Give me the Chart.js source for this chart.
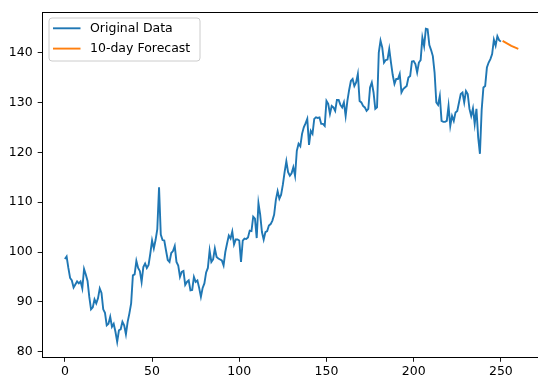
<!DOCTYPE html>
<html>
<head>
<meta charset="utf-8">
<script src="https://cdn.jsdelivr.net/npm/chart.js@4/dist/chart.umd.min.js"></script>
<style>
  html, body { margin: 0; padding: 0; background: #fff; }
  #wrap { width: 538px; height: 376px; }
</style>
</head>
<body>
<div id="wrap"><canvas id="c" width="538" height="376"></canvas></div>
<script>
// Daily closing prices, day 0 .. 250
const originalPrices = [
  98.6, 99.1, 96.8, 94.8, 94.3, 92.9, 93.5, 94.1, 93.7, 94.1,
  92.7, 96.6, 95.5, 94.2, 91.0, 88.5, 88.9, 90.5, 89.7, 90.7,
  92.7, 91.8, 88.5, 87.8, 85.3, 85.6, 87.0, 85.0, 85.6, 84.0,
  82.0, 84.3, 84.5, 86.0, 85.3, 83.5, 86.0, 87.7, 89.7, 95.3,
  95.5, 98.2, 96.8, 96.2, 94.0, 97.0, 97.7, 96.8, 97.4, 99.7,
  102.3, 100.7, 102.4, 104.6, 113.0, 103.5, 102.4, 102.3, 100.3, 98.4,
  98.0, 99.8, 100.2, 101.2, 98.0, 97.3, 95.0, 96.0, 96.2, 93.4,
  94.0, 94.3, 92.3, 92.4, 95.0, 94.0, 94.3, 92.8, 91.0, 92.8,
  93.7, 95.9, 96.8, 100.3, 98.0, 98.5, 100.7, 99.0, 98.7, 98.5,
  98.3, 97.3, 100.0, 101.7, 103.3, 102.7, 104.1, 101.5, 102.5, 102.5,
  102.3, 98.0, 102.3, 102.7, 102.6, 102.9, 104.3, 104.2, 107.1, 106.7,
  102.8, 109.8, 107.5, 104.0, 102.5, 104.0, 104.2, 105.3, 105.6, 106.3,
  107.5, 110.5, 112.2, 110.7, 111.5, 113.5, 116.0, 118.2, 116.0, 115.3,
  115.8, 117.0, 115.3, 120.3, 121.7, 121.2, 123.7, 125.0, 125.8, 126.7,
  121.5, 124.3, 123.7, 126.7, 127.0, 126.9, 127.0, 125.7, 125.7, 125.3,
  130.3, 129.7, 127.7, 129.3, 129.0, 128.3, 130.5, 130.5, 129.5, 129.0,
  130.0, 127.3, 130.3, 132.5, 134.3, 134.7, 133.3, 134.0, 135.7, 130.3,
  130.0, 129.3, 129.0, 128.3, 128.7, 133.0, 134.0, 132.0, 128.7, 129.0,
  140.0, 142.4, 141.0, 138.0, 138.5, 138.6, 140.7, 138.0, 135.5, 133.7,
  134.7, 134.7, 135.7, 132.0, 132.7, 133.0, 133.3, 135.0, 135.3, 138.2,
  138.3, 137.7, 136.0, 138.0, 138.5, 143.0, 141.3, 144.8, 144.7, 141.5,
  140.5, 139.3, 136.0, 130.0, 129.5, 131.3, 126.3, 126.1, 126.1, 126.3,
  129.3, 125.3, 127.3, 126.3, 128.0, 128.3, 130.0, 131.7, 132.0, 130.0,
  132.3, 131.7, 128.7, 127.3, 128.8, 125.7, 128.7, 123.0, 119.7, 128.5,
  133.0, 133.3, 137.0, 138.0, 138.7, 139.7, 142.6, 141.4, 143.3, 142.5,
  142.2
];

// Model forecast for the next 10 days (day 251 .. 260)
const forecastPrices = [142.35, 142.15, 141.95, 141.75, 141.55, 141.35, 141.2, 141.05, 140.9, 140.75];

const xTickValues = [0, 50, 100, 150, 200, 250];
const yTickValues = [80, 90, 100, 110, 120, 130, 140];

const seriesLabels = ['Original Data', '10-day Forecast'];
const seriesColors = ['#1f77b4', '#ff7f0e'];

const originalPoints = originalPrices.map((v, i) => ({ x: i, y: v }));
const forecastStart = originalPrices.length;
const forecastPoints = forecastPrices.map((v, i) => ({ x: forecastStart + i, y: v }));

Chart.defaults.font.family = "'DejaVu Sans', sans-serif";
Chart.defaults.font.size = 12.5;
Chart.defaults.color = '#000';

// Boxed legend in the upper-left corner of the plot, with line samples
const boxedLegend = {
  id: 'boxedLegend',
  afterDraw(chart) {
    const ctx = chart.ctx;
    const bx = 49, by = 18, bw = 151, bh = 43, r = 3;
    ctx.save();
    ctx.beginPath();
    ctx.moveTo(bx + r, by);
    ctx.lineTo(bx + bw - r, by);
    ctx.arcTo(bx + bw, by, bx + bw, by + r, r);
    ctx.lineTo(bx + bw, by + bh - r);
    ctx.arcTo(bx + bw, by + bh, bx + bw - r, by + bh, r);
    ctx.lineTo(bx + r, by + bh);
    ctx.arcTo(bx, by + bh, bx, by + bh - r, r);
    ctx.lineTo(bx, by + r);
    ctx.arcTo(bx, by, bx + r, by, r);
    ctx.closePath();
    ctx.fillStyle = 'rgba(255,255,255,0.8)';
    ctx.fill();
    ctx.strokeStyle = 'rgba(204,204,204,1)';
    ctx.lineWidth = 1;
    ctx.stroke();

    ctx.font = "12.5px 'DejaVu Sans', sans-serif";
    ctx.textBaseline = 'middle';
    ctx.textAlign = 'left';
    chart.data.datasets.forEach((ds, i) => {
      const y = 28.3 + i * 20.3;
      ctx.beginPath();
      ctx.moveTo(53, y);
      ctx.lineTo(80.5, y);
      ctx.strokeStyle = ds.borderColor;
      ctx.lineWidth = 1.9;
      ctx.stroke();
      ctx.fillStyle = '#000';
      ctx.fillText(ds.label, 90, y + 0.5);
    });
    ctx.restore();
  }
};

// Top frame line of the plot area
const topFrame = {
  id: 'topFrame',
  afterDatasetsDraw(chart) {
    const { ctx, chartArea } = chart;
    const y = Math.round(chartArea.top) - 0.5;
    ctx.save();
    ctx.beginPath();
    ctx.moveTo(chartArea.left, y);
    ctx.lineTo(chartArea.right, y);
    ctx.strokeStyle = '#000';
    ctx.lineWidth = 1;
    ctx.stroke();
    ctx.restore();
  }
};

new Chart(document.getElementById('c'), {
  type: 'line',
  data: {
    datasets: [
      {
        label: seriesLabels[0],
        data: originalPoints,
        borderColor: seriesColors[0],
        borderWidth: 1.9,
        pointRadius: 0,
        tension: 0,
        fill: false
      },
      {
        label: seriesLabels[1],
        data: forecastPoints,
        borderColor: seriesColors[1],
        borderWidth: 1.9,
        pointRadius: 0,
        tension: 0,
        fill: false
      }
    ]
  },
  options: {
    responsive: false,
    animation: false,
    layout: { padding: { top: 11.5, right: 0, bottom: 0, left: 0 } },
    plugins: {
      legend: { display: false },
      tooltip: { enabled: false }
    },
    scales: {
      x: {
        type: 'linear',
        min: -13,
        max: 271.3,
        afterBuildTicks(scale) { scale.ticks = xTickValues.map(v => ({ value: v })); },
        afterFit(scale) { scale.height = 18.7; },
        ticks: { padding: 2, color: '#000', autoSkip: false, maxRotation: 0 },
        grid: { drawOnChartArea: false, drawTicks: true, tickLength: 4.5, color: '#000', lineWidth: 0.9 },
        border: { display: true, color: '#000', width: 1 }
      },
      y: {
        type: 'linear',
        min: 78.88,
        max: 148.04,
        afterBuildTicks(scale) { scale.ticks = yTickValues.map(v => ({ value: v })); },
        afterFit(scale) { scale.width = 42.2; },
        ticks: { padding: 5, color: '#000' },
        grid: { drawOnChartArea: false, drawTicks: true, tickLength: 4.5, color: '#000', lineWidth: 0.9 },
        border: { display: true, color: '#000', width: 1 }
      }
    }
  },
  plugins: [topFrame, boxedLegend]
});
</script>
</body>
</html>
